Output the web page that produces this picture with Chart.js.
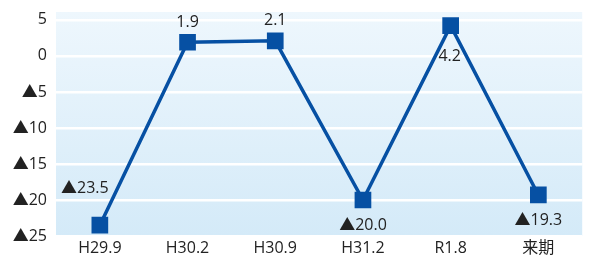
<!DOCTYPE html>
<html><head><meta charset="utf-8">
<script src="https://cdn.jsdelivr.net/npm/chart.js@4.4.1/dist/chart.umd.min.js"></script>
<style>
html,body{margin:0;padding:0;background:#fff;overflow:hidden;width:589px;height:259px;}
#wrap{width:594px;height:259px;}
</style></head><body>
<div id="wrap"><canvas id="c" width="594" height="259"></canvas></div>
<script>
const categories = ['H29.9','H30.2','H30.9','H31.2','R1.8','来期'];
const values = [-23.5, 1.9, 2.1, -20.0, 4.2, -19.3];
const yTicks = [5, 0, -5, -10, -15, -20, -25];
const labelPlacement = ['upleft','top','top','bottom','bottomfar','bottom'];

function fmt(v, digits){
  const s = digits ? Math.abs(v).toFixed(digits) : String(Math.abs(v));
  return v < 0 ? '▲' + s : s;
}
const FONT = "'Open Sans','Noto Sans CJK JP',sans-serif";

const bgPlugin = {
  id:'bg',
  beforeDraw(chart){
    const {ctx, chartArea:a} = chart;
    const g = ctx.createLinearGradient(0,a.top,0,a.bottom);
    g.addColorStop(0,'#eef7fd');
    g.addColorStop(1,'#d4eaf8');
    ctx.save(); ctx.fillStyle=g; ctx.fillRect(a.left,a.top,a.right-a.left,a.bottom-a.top); ctx.restore();
  }
};
const labelPlugin = {
  id:'lbl',
  afterDatasetsDraw(chart){
    const ctx = chart.ctx;
    const meta = chart.getDatasetMeta(0);
    ctx.save();
    ctx.font = "16px " + FONT;
    ctx.fillStyle = '#222';
    ctx.textAlign='center'; ctx.textBaseline='middle';
    meta.data.forEach((pt,i)=>{
      const v = values[i];
      const txt = fmt(v,1);
      let x = pt.x, y = pt.y;
      switch(labelPlacement[i]){
        case 'upleft': x -= 15; y -= 37; break;
        case 'top': y -= 20; break;
        case 'bottom': y += 25; break;
        case 'bottomfar': x -= 1; y += 31; break;
      }
      ctx.fillText(txt,x,y);
    });
    ctx.restore();
  }
};

new Chart(document.getElementById('c'),{
  type:'line',
  data:{labels:categories,datasets:[{
    data:values,
    borderColor:'#0650a3',
    backgroundColor:'#0650a3',
    borderWidth:3.5,
    pointStyle:'rect',
    pointRadius:11.8,
    pointHoverRadius:11.8,
    pointBorderWidth:0,
    pointBackgroundColor:'#0650a3',
    tension:0
  }]},
  options:{
    responsive:false,
    animation:false,
    events:[],
    layout:{padding:{top:12,right:0,left:0,bottom:0}},
    plugins:{legend:{display:false},tooltip:{enabled:false}},
    scales:{
      x:{
        offset:true,
        grid:{display:false,drawTicks:false},
        border:{display:false},
        ticks:{font:{size:16,family:FONT},color:'#222',padding:3,maxRotation:0},
        afterFit(s){ s.height = 23; s.paddingLeft=0; s.paddingRight=0; }
      },
      y:{
        min:-25,max:6.1,
        grid:{color:'#ffffff',lineWidth:2.5,drawTicks:false},
        border:{display:false},
        ticks:{font:{size:16,family:FONT},color:'#222',padding:9,callback:(v)=>fmt(v)},
        afterBuildTicks(s){ s.ticks = yTicks.map(v=>({value:v})); },
        afterFit(s){ s.width = 56; s.paddingTop=0; s.paddingBottom=0; }
      }
    }
  },
  plugins:[bgPlugin,labelPlugin]
});
</script></body></html>
